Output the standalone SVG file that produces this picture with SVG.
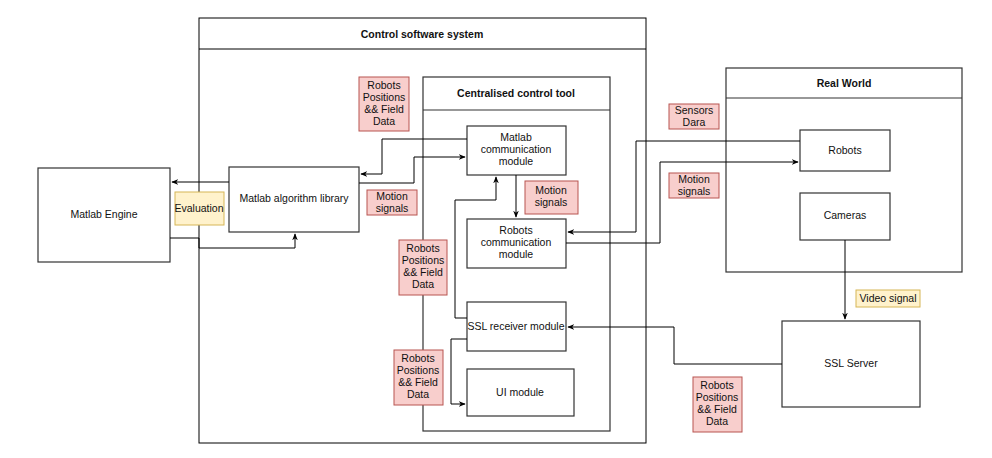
<svg xmlns="http://www.w3.org/2000/svg" width="992" height="458" viewBox="0 0 992 458">
<style>
text{font-family:"Liberation Sans",Arial,sans-serif;font-size:10.5px;fill:#111;text-anchor:middle}
.b{font-weight:bold}
.box{fill:#fff;stroke:#333;stroke-width:1.2}
.red{fill:#f8cecc;stroke:#b85450;stroke-width:1}
.yel{fill:#fff2cc;stroke:#d6b656;stroke-width:1}
.c path{fill:none;stroke:#000;stroke-width:1;marker-end:url(#a)}
</style>
<defs><marker id="a" viewBox="0 0 10 10" refX="9" refY="5" markerWidth="7" markerHeight="7" orient="auto"><path d="M0,1 L10,5 L0,9 L3,5 Z" fill="#000"/></marker></defs>
<rect width="992" height="458" fill="#fff"/>
<g id="control"><rect x="199" y="18" width="447" height="425" fill="none" stroke="#000"/><line x1="199" y1="49" x2="646" y2="49" stroke="#000"/><text class="b" x="422" y="38">Control software system</text></g>
<g id="central"><rect x="423" y="77" width="187" height="354" fill="none" stroke="#333" stroke-width="1.2"/><line x1="423" y1="110" x2="610" y2="110" stroke="#333" stroke-width="1.2"/><text class="b" x="516" y="97">Centralised control tool</text></g>
<g id="realworld"><rect x="726" y="68" width="236" height="204" fill="none" stroke="#333" stroke-width="1.2"/><line x1="726" y1="98" x2="962" y2="98" stroke="#333" stroke-width="1.2"/><text class="b" x="844" y="87">Real World</text></g>
<g id="engine"><rect class="box" x="38" y="168" width="132" height="94"/><text x="104" y="218">Matlab Engine</text></g>
<g id="algo"><rect class="box" x="229" y="167" width="130" height="65"/><text x="294" y="202">Matlab algorithm library</text></g>
<g id="mcm"><rect class="box" x="467" y="126" width="99" height="49"/><text x="516" y="141">Matlab</text><text x="516" y="153">communication</text><text x="516" y="165">module</text></g>
<g id="rcm"><rect class="box" x="467" y="219" width="99" height="49"/><text x="516" y="234">Robots</text><text x="516" y="246">communication</text><text x="516" y="258">module</text></g>
<g id="ssl"><rect class="box" x="467" y="302" width="99" height="49"/><text x="516" y="330">SSL receiver module</text></g>
<g id="ui"><rect class="box" x="467" y="369" width="107" height="47"/><text x="520" y="396">UI module</text></g>
<g id="robots"><rect class="box" x="800" y="130" width="90" height="41"/><text x="845" y="154">Robots</text></g>
<g id="cameras"><rect class="box" x="800" y="193" width="90" height="47"/><text x="845" y="219">Cameras</text></g>
<g id="server"><rect class="box" x="782" y="321" width="138" height="86"/><text x="851" y="367">SSL Server</text></g>
<g class="c" id="connectors">
<path d="M229,182 H172"/>
<path d="M170,238 H199 V248 H295 V234"/>
<path d="M467,139 H382 V174 H361"/>
<path d="M359,183 H414 V157 H465"/>
<path d="M516,175 V217"/>
<path d="M467,318 H455 V200 H496 V177"/>
<path d="M467,339 H451 V404 H465"/>
<path d="M800,141 H636 V232 H568"/>
<path d="M566,243 H660 V162 H798"/>
<path d="M845,240 V319"/>
<path d="M782,364 H674 V327 H568"/>
</g>
<g id="labels">
<rect class="yel" x="175" y="192" width="49" height="33"/><text x="199" y="212">Evaluation</text>
<rect class="red" x="359" y="77" width="50" height="54"/><text x="384" y="89">Robots</text><text x="384" y="101">Positions</text><text x="384" y="113">&amp;&amp; Field</text><text x="384" y="125">Data</text>
<rect class="red" x="367" y="190" width="50" height="25"/><text x="392" y="200">Motion</text><text x="392" y="212">signals</text>
<rect class="red" x="525" y="181" width="53" height="33"/><text x="551" y="194">Motion</text><text x="551" y="206">signals</text>
<rect class="red" x="399" y="240" width="48" height="55"/><text x="423" y="252">Robots</text><text x="423" y="264">Positions</text><text x="423" y="276">&amp;&amp; Field</text><text x="423" y="288">Data</text>
<rect class="red" x="394" y="350" width="49" height="55"/><text x="418" y="362">Robots</text><text x="418" y="374">Positions</text><text x="418" y="386">&amp;&amp; Field</text><text x="418" y="398">Data</text>
<rect class="red" x="669" y="104" width="50" height="25"/><text x="694" y="114">Sensors</text><text x="694" y="126">Dara</text>
<rect class="red" x="669" y="173" width="50" height="25"/><text x="694" y="183">Motion</text><text x="694" y="195">signals</text>
<rect class="yel" x="856" y="290" width="64" height="17"/><text x="888" y="302">Video signal</text>
<rect class="red" x="693" y="377" width="49" height="55"/><text x="717" y="389">Robots</text><text x="717" y="401">Positions</text><text x="717" y="413">&amp;&amp; Field</text><text x="717" y="425">Data</text>
</g>
</svg>
